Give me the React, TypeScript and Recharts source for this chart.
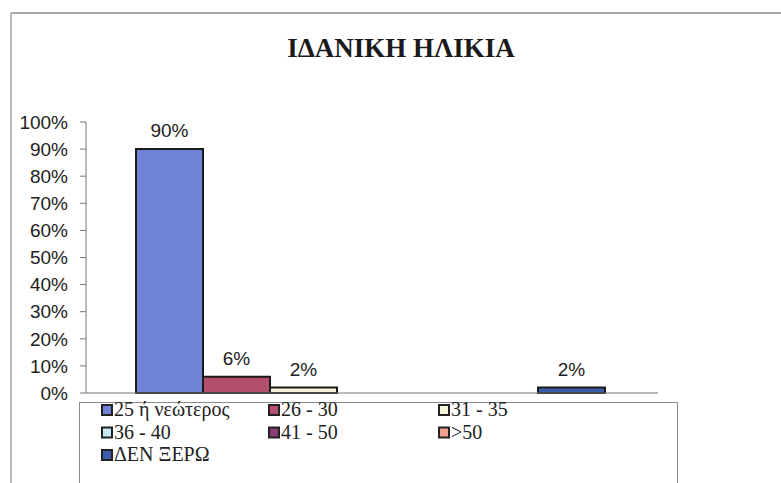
import { BarChart, Bar, XAxis, YAxis, LabelList } from 'recharts';

const groups = ["25 ή νεώτερος", "26 - 30", "31 - 35", "36 - 40", "41 - 50", ">50", "ΔΕΝ ΞΕΡΩ"];
const shares = [90, 6, 2, 0, 0, 0, 2];
const colors = ["#6f82d6", "#b24f6c", "#f4f2d6", "#c6e9f7", "#8a3d76", "#f1a090", "#3c5cae"];
const yTicks = [0, 10, 20, 30, 40, 50, 60, 70, 80, 90, 100];

const serif = 'Liberation Serif';
const sans = 'Liberation Sans';

const row: Record<string, number | string> = { name: "ΗΛΙΚΙΑ" };
groups.forEach((g, i) => {
  row["s" + i] = shares[i];
});
const data = [row];

// title, frame and legend drawn in a plain svg over the chart
function Overlay() {
  const lefts = [101, 268, 438];
  return (
    <svg width={781} height={483} style={{ position: 'absolute', left: 0, top: 0 }}>
      <line x1={11} y1={13} x2={781} y2={13} stroke="#a8a8a8" strokeWidth={2} />
      <line x1={11} y1={13} x2={11} y2={483} stroke="#b8b8b8" strokeWidth={2} />
      <text x={401} y={57} textAnchor="middle" fontFamily={serif} fontWeight="bold" fontSize={27} fill="#1a1a1a">
        ΙΔΑΝΙΚΗ ΗΛΙΚΙΑ
      </text>
      <rect x={79.5} y={402.5} width={598} height={100} fill="#fff" stroke="#8a8a8a" strokeWidth={1} />
      {groups.map((g, i) => {
        const col = i % 3;
        const r = Math.floor(i / 3);
        const x = lefts[col];
        const y = 416 + r * 22.5;
        return (
          <g key={g}>
            <rect x={x + 1} y={y - 11} width={10} height={10} fill={colors[i]} stroke="#222" strokeWidth={2} />
            <text x={x + 13} y={y} fontFamily={serif} fontSize={20} fill="#222">
              {g}
            </text>
          </g>
        );
      })}
    </svg>
  );
}

export default function App() {
  return (
    <div style={{ position: 'fixed', left: 0, top: 0, width: 781, height: 483, background: '#fff', overflow: 'hidden' }}>
      <div style={{ position: 'absolute', left: 0, top: 0 }}>
        <BarChart
          width={781}
          height={483}
          data={data}
          margin={{ top: 122, right: 123, bottom: 89, left: 0 }}
          barCategoryGap={50}
          barGap={0}
        >
          <XAxis dataKey="name" tick={false} tickLine={false} axisLine={{ stroke: '#777' }} height={1} />
          <YAxis
            width={86}
            domain={[0, 100]}
            ticks={yTicks}
            interval={0}
            tickFormatter={(v: number) => v + '%'}
            tick={{ fill: '#222', fontSize: 19, fontFamily: sans }}
            tickLine={{ stroke: '#777' }}
            tickSize={6}
            tickMargin={12}
            axisLine={{ stroke: '#777' }}
          />
          {groups.map((g, i) => (
            <Bar
              key={g}
              dataKey={'s' + i}
              name={g}
              fill={colors[i]}
              stroke="#1a1a1a"
              strokeWidth={2}
              isAnimationActive={false}
            >
              <LabelList
                dataKey={'s' + i}
                position="top"
                offset={12}
                formatter={(v: any) => (v ? v + '%' : '')}
                style={{ fill: '#222', fontSize: 19, fontFamily: sans }}
              />
            </Bar>
          ))}
        </BarChart>
      </div>
      <Overlay />
    </div>
  );
}
